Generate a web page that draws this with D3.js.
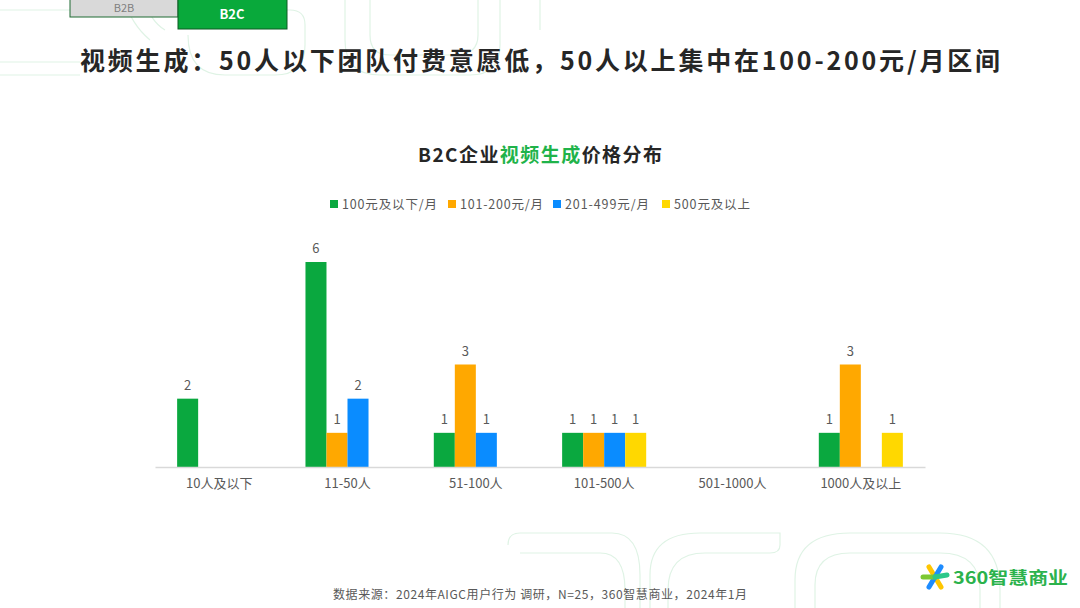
<!DOCTYPE html>
<html><head><meta charset="utf-8">
<script src="https://cdn.jsdelivr.net/npm/d3@7/dist/d3.min.js"></script>
<style>html,body{margin:0;padding:0;background:#fff;}svg{display:block;font-family:"Noto Sans CJK SC","Noto Sans",sans-serif;}</style>
</head><body>
<svg id="c" width="1080" height="608"></svg>
<script>
const categories = ["10人及以下","11-50人","51-100人","101-500人","501-1000人","1000人及以上"];
const seriesNames = ["100元及以下/月","101-200元/月","201-499元/月","500元及以上"];
const seriesColors = ["#0aa83f","#ffa800","#0a8cff","#ffd800"];
const s1 = [2,6,1,1,0,1];
const s2 = [0,1,3,1,0,3];
const s3 = [0,2,1,1,0,0];
const s4 = [0,0,0,1,0,1];
const seriesValues = [s1,s2,s3,s4];
const yTicks = [0,6];

const svg = d3.select("#c");

// background decoration
const deco = svg.append("g").attr("fill","none").attr("stroke","#dff3e5").attr("stroke-width",1.2);
deco.append("path").attr("d","M0,10 H200");
deco.append("path").attr("d","M0,62 H80");
deco.append("path").attr("d","M0,75 H80");
deco.append("path").attr("d","M125,0 C128,15 138,30 150,40");
deco.append("path").attr("d","M145,0 C148,12 155,24 165,30");
deco.append("path").attr("d","M185,10 H290 Q305,10 305,25 V45 Q305,75 275,75 H225 Q188,75 188,35");
deco.append("path").attr("d","M345,0 V40 Q345,75 380,75 H470 Q500,75 500,45 V0");
deco.append("path").attr("d","M370,0 V35 Q370,55 390,55 H455 Q478,55 478,35 V0");
deco.append("path").attr("d","M540,30 V0");
deco.append("path").attr("d","M508,545 Q508,533 520,533 H612 Q640,533 640,575 V608");
deco.append("path").attr("d","M520,553 H600 Q625,553 625,590 V608");
deco.append("path").attr("d","M650,608 V575 Q650,533 700,533 H780 V545 Q780,553 770,553 H705 Q668,553 668,590 V608");
deco.append("path").attr("d","M795,608 V580 Q795,533 850,533 H940 Q1000,533 1000,590 V608");
deco.append("path").attr("d","M815,608 V585 Q815,553 850,553 H940 Q980,553 980,590 V608");

// tabs
svg.append("rect").attr("x",70).attr("y",-4).attr("width",108).attr("height",21)
  .attr("fill","#d9d9d9").attr("stroke","#1f6b33").attr("stroke-width",1);
svg.append("text").attr("x",124).attr("y",12).attr("text-anchor","middle")
  .attr("font-size",11).attr("fill","#7f7f7f").text("B2B");
svg.append("rect").attr("x",178).attr("y",-4).attr("width",109).attr("height",33)
  .attr("fill","#09a93b").attr("stroke","#0e5a25").attr("stroke-width",1);
svg.append("text").attr("x",232).attr("y",19).attr("text-anchor","middle")
  .attr("font-size",13).attr("font-weight","bold").attr("fill","#ffffff").text("B2C");

// main title
svg.append("text").attr("x",80).attr("y",70)
  .attr("font-size",25).attr("font-weight","bold").attr("fill","#262626")
  .attr("textLength",920).attr("lengthAdjust","spacing")
  .text("视频生成：50人以下团队付费意愿低，50人以上集中在100-200元/月区间");

// chart title
const ct = svg.append("text").attr("x",418).attr("y",162)
  .attr("font-size",19).attr("font-weight","bold").attr("fill","#262626")
  .attr("textLength",244).attr("lengthAdjust","spacing");
ct.append("tspan").text("B2C企业");
ct.append("tspan").attr("fill","#1fb34a").text("视频生成");
ct.append("tspan").text("价格分布");

// legend
const legendX = [330,448,553,662];
const legendW = [95,83,84,76];
const lg = svg.append("g");
seriesNames.forEach((n,i)=>{
  const g = lg.append("g").attr("transform",`translate(${legendX[i]},204)`);
  g.append("rect").attr("x",0).attr("y",-4).attr("width",8).attr("height",8).attr("fill",seriesColors[i]);
  g.append("text").attr("x",12).attr("y",4.5).attr("font-size",12.5).attr("fill","#595959")
    .attr("textLength",legendW[i]).attr("lengthAdjust","spacing").text(n);
});

// scales
const x0 = d3.scaleBand().domain(categories).range([155,925]).paddingInner(0.345).paddingOuter(0.1725);
const x1 = d3.scaleBand().domain(d3.range(seriesNames.length)).range([0,x0.bandwidth()]).padding(0);
const y = d3.scaleLinear().domain([yTicks[0],yTicks[1]]).range([467,262]);

const plot = svg.append("g");
categories.forEach((c,ci)=>{
  seriesValues.forEach((vals,si)=>{
    const v = vals[ci];
    if(!v) return;
    const bx = x0(c)+x1(si);
    plot.append("rect").attr("x",bx).attr("y",y(v)).attr("width",x1.bandwidth()).attr("height",y(0)-y(v))
      .attr("fill",seriesColors[si]);
    plot.append("text").attr("x",bx+x1.bandwidth()/2).attr("y",y(v)-9).attr("text-anchor","middle")
      .attr("font-size",13).attr("fill","#595959").text(v);
  });
});

// axis
const ax = svg.append("g").attr("transform",`translate(0,${y(0)})`)
  .call(d3.axisBottom(x0).tickSize(0).tickPadding(12));
ax.select(".domain").attr("stroke","#d9d9d9").attr("stroke-width",1.5);
ax.selectAll("text").attr("font-size",13).attr("fill","#595959")
  .attr("font-family","'Noto Sans CJK SC','Noto Sans',sans-serif");

// footer
svg.append("text").attr("x",333).attr("y",599)
  .attr("font-size",12).attr("fill","#595959")
  .attr("textLength",414).attr("lengthAdjust","spacing")
  .text("数据来源：2024年AIGC用户行为 调研，N=25，360智慧商业，2024年1月");

// logo
const logo = svg.append("g").attr("transform","translate(935,577)");
logo.append("line").attr("x1",-6).attr("y1",-10).attr("x2",6).attr("y2",10).attr("stroke","#ffc600").attr("stroke-width",5).attr("stroke-linecap","round");
logo.append("line").attr("x1",6).attr("y1",-10).attr("x2",-6).attr("y2",10).attr("stroke","#1e8cff").attr("stroke-width",5).attr("stroke-linecap","round");
logo.append("line").attr("x1",-12).attr("y1",0).attr("x2",0).attr("y2",0).attr("stroke","#7dc832").attr("stroke-width",5).attr("stroke-linecap","round");
logo.append("line").attr("x1",0).attr("y1",0).attr("x2",12).attr("y2",-2).attr("stroke","#2cc88a").attr("stroke-width",5).attr("stroke-linecap","round");
svg.append("text").attr("x",953).attr("y",584).attr("font-size",17).attr("font-weight","bold")
  .attr("fill","#2bb24c").attr("textLength",115).attr("lengthAdjust","spacingAndGlyphs").text("360智慧商业");
</script>
</body></html>
